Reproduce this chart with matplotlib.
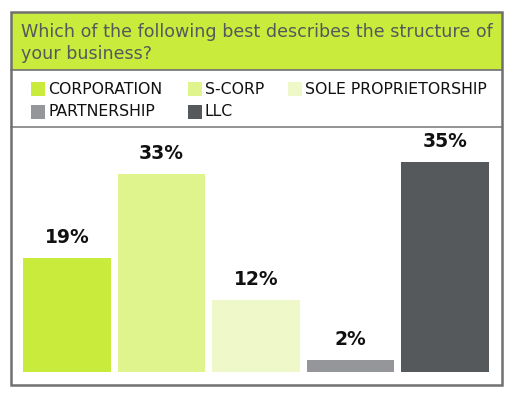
import matplotlib
matplotlib.use("Agg")
import matplotlib.pyplot as plt
from matplotlib.patches import Rectangle

categories = ["CORPORATION", "S-CORP", "SOLE PROPRIETORSHIP", "PARTNERSHIP", "LLC"]
values = [19, 33, 12, 2, 35]
labels = ["19%", "33%", "12%", "2%", "35%"]
colors = ["#c9eb3c", "#dff48c", "#eef8c8", "#949699", "#55595c"]
title = "Which of the following best describes the structure of\nyour business?"

W, H = 512, 398
fig = plt.figure(figsize=(W / 100, H / 100), dpi=100)
fig.patch.set_facecolor("white")

def fx(px):
    return px / W

def fy(py):
    return 1 - py / H

# header band
fig.patches.append(Rectangle((fx(11), fy(70)), fx(491), 58 / H, transform=fig.transFigure,
                             facecolor="#c9eb3c", edgecolor="none", zorder=0))
# outer border
fig.patches.append(Rectangle((fx(11), fy(385)), fx(491), 373 / H, transform=fig.transFigure,
                             facecolor="none", edgecolor="#707070", linewidth=1.8, zorder=5))
# separators
fig.add_artist(plt.Line2D([fx(11), fx(502)], [fy(70), fy(70)], color="#707070", lw=1.2))
fig.add_artist(plt.Line2D([fx(11), fx(502)], [fy(127), fy(127)], color="#808080", lw=1.2))

fig.text(fx(21), fy(43), title, ha="left", va="center", fontsize=12.6,
         color="#56595c", linespacing=1.3, family="DejaVu Sans", fontweight="medium")

# legend
legend_pos = [(31, 89), (188, 89), (288, 89), (31, 112), (188, 112)]
for (lx, ly), cat, col in zip(legend_pos, categories, colors):
    fig.patches.append(Rectangle((fx(lx), fy(ly + 7)), 14 / W, 14 / H, transform=fig.transFigure,
                                 facecolor=col, edgecolor="none"))
    fig.text(fx(lx + 17), fy(ly), cat, ha="left", va="center", fontsize=11.3,
             color="#111111", family="DejaVu Sans")

# bars
ax = fig.add_axes([fx(11), (H - 372) / H, fx(490), 242 / H])
ax.set_facecolor("none")
x = list(range(len(values)))
ax.bar(x, values, width=0.93, color=colors)
for xi, v, lab in zip(x, values, labels):
    ax.annotate(lab, (xi, v), xytext=(0, 8), textcoords="offset points", ha="center",
                va="bottom", fontsize=13.5, fontweight="bold", color="#111111", family="DejaVu Sans")
ax.set_xlim(-0.593, 4.593)
ax.set_ylim(0, 40.33)
ax.axis("off")

fig.savefig("out.png", dpi=100, facecolor="white")
